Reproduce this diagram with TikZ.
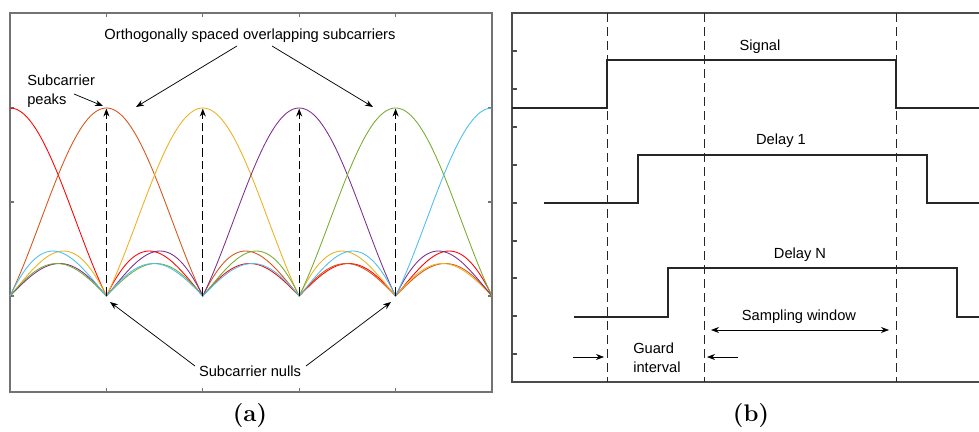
\documentclass[tikz,border=0pt]{standalone}
\usepackage{fontspec}
\setsansfont{Liberation Sans}
\usetikzlibrary{arrows.meta}
\definecolor{cR}{RGB}{255,0,0}
\definecolor{cO}{RGB}{217,83,25}
\definecolor{cY}{RGB}{237,177,32}
\definecolor{cP}{RGB}{126,47,142}
\definecolor{cG}{RGB}{119,172,48}
\definecolor{cC}{RGB}{77,190,238}
\begin{document}
\begin{tikzpicture}[x=0.75pt,y=-0.75pt,
  lbl/.style={font=\sffamily\fontsize{11}{13.9}\selectfont, inner sep=0pt},
  subcap/.style={font=\bfseries\fontsize{18}{20}\selectfont, inner sep=0pt},
  ptr/.style={-{Stealth[length=6pt,width=4.5pt]}, line width=0.55pt},
  boxa/.style={line width=0.8pt, black!55},
  boxb/.style={line width=0.9pt, black!70},
  curve/.style={line width=0.65pt},
  peakline/.style={line width=0.8pt, dash pattern=on 6.5pt off 3pt,
                   -{Stealth[length=6pt,width=4.5pt]}},
  guide/.style={line width=0.65pt, dash pattern=on 7pt off 3.5pt, black!85},
  wave/.style={line width=0.9pt, black!85}]
\useasboundingbox (0,0) rectangle (979,432);

% ---------- panel (a): subcarrier spectra ----------
\draw[boxa] (10,13) rectangle (492,392);
\foreach \xx in {106.4,202.8,299.2,395.6}{
  \draw[boxa] (\xx,13) -- (\xx,17);
  \draw[boxa] (\xx,392) -- (\xx,388);
}
\foreach \yy in {108,202,296}{
  \draw[boxa] (10,\yy) -- (14,\yy);
  \draw[boxa] (492,\yy) -- (488,\yy);
}
\foreach \k/\c in {0/cR,1/cO,2/cY,3/cP,4/cG,5/cC}{
  \draw[curve,\c] plot[domain=0:5,samples=301]
    ({10+96.4*\x},{296-188*abs(cos(30*(\x-\k))+cos(90*(\x-\k))+cos(150*(\x-\k)))/3});
}
\foreach \k in {1,2,3,4}{
  \coordinate (n\k) at ({10+96.4*\k},296);
  \coordinate (p\k) at ({10+96.4*\k},108.5);
  \draw[peakline] (n\k) -- (p\k);
}

\node[lbl, anchor=base] (ortho) at (250,40) {Orthogonally spaced overlapping subcarriers};
\coordinate (o1s) at (237,46);
\coordinate (o1e) at (136,107);
\coordinate (o2s) at (272,46);
\coordinate (o2e) at (373,107);
\draw[ptr] (o1s) -- (o1e);
\draw[ptr] (o2s) -- (o2e);

\node[lbl, anchor=north west, align=left] (peaks) at (27,75) {Subcarrier\\peaks};
\coordinate (pks) at (74,94);
\coordinate (pke) at (103,106);
\draw[ptr] (pks) -- (pke);

\node[lbl, anchor=base] (nulls) at (250,376) {Subcarrier nulls};
\coordinate (nl1s) at (195,366);
\coordinate (nl1e) at (110,302);
\coordinate (nl2s) at (306,366);
\coordinate (nl2e) at (391,302);
\draw[ptr] (nl1s) -- (nl1e);
\draw[ptr] (nl2s) -- (nl2e);

\node[subcap, anchor=center] (capa) at (250,416) {(a)};

% ---------- panel (b): delayed copies and guard interval ----------
\draw[boxb] (979,13) -- (512,13) -- (512,382) -- (979,382);
\foreach \yy in {51,89,127,165,203,241,278,316,354}{
  \draw[boxb] (512,\yy) -- (517,\yy);
}
\foreach \xx in {607,704,896}{
  \draw[guide] (\xx,13) -- (\xx,382);
}

% transmitted symbol and its delayed copies
\draw[wave] (512,108) -- (607,108) -- (607,60) -- (896,60) -- (896,108) -- (979,108);
\draw[wave] (544,203) -- (638,203) -- (638,155) -- (927,155) -- (927,203) -- (979,203);
\draw[wave] (574,317) -- (668,317) -- (668,268) -- (957,268) -- (957,317) -- (979,317);

\node[lbl, anchor=base] (signal) at (760,50.5) {Signal};
\node[lbl, anchor=base] (delay1) at (781,144) {Delay 1};
\node[lbl, anchor=base] (delayN) at (800,258) {Delay N};

\node[lbl, anchor=base] (sampling) at (799,320.5) {Sampling window};
\coordinate (sw1) at (711,330);
\coordinate (sw2) at (889,330);
\draw[line width=0.55pt, {Stealth[length=6pt,width=4.5pt]}-{Stealth[length=6pt,width=4.5pt]}] (sw1) -- (sw2);

\node[lbl, anchor=north west, align=left] (guard) at (633,343) {Guard\\interval};
\coordinate (g1s) at (573,357);
\coordinate (g1e) at (604,357);
\coordinate (g2s) at (738,357);
\coordinate (g2e) at (707,357);
\draw[ptr] (g1s) -- (g1e);
\draw[ptr] (g2s) -- (g2e);

\node[subcap, anchor=center] (capb) at (751,416) {(b)};
\end{tikzpicture}
\end{document}
